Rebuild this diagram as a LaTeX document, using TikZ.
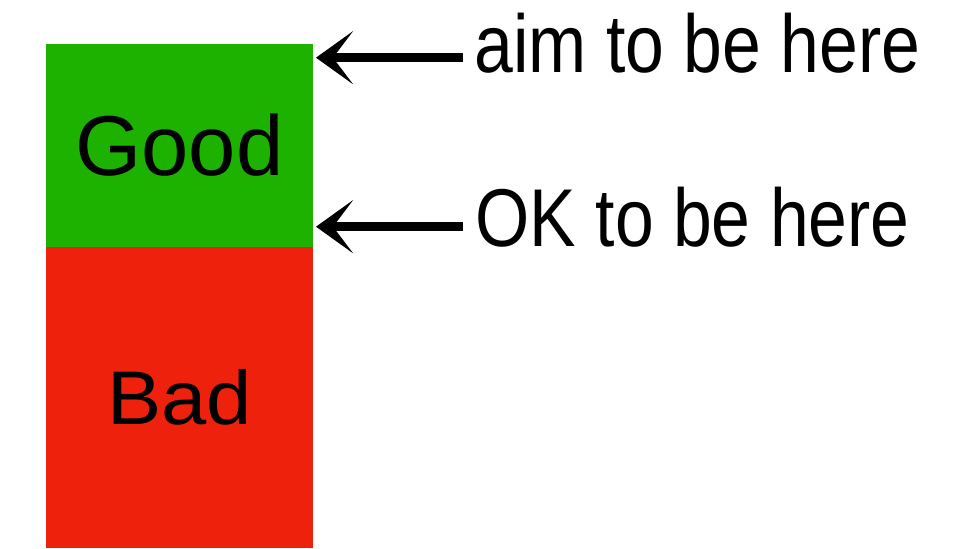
\documentclass[tikz,border=0pt]{standalone}
\usepackage{fontspec}
\setmainfont{Liberation Sans}
\newfontfamily\notefont{Liberation Sans}[FakeStretch=0.85]
\newfontfamily\badfont{Liberation Sans}[FakeStretch=1.07]
\usetikzlibrary{arrows.meta,calc}
\definecolor{goodgreen}{RGB}{29,177,0}
\definecolor{badred}{RGB}{238,34,12}
\begin{document}
\begin{tikzpicture}[x=1pt,y=1pt,
  zone/.style={minimum width=267pt, inner sep=0pt, outer sep=0pt, draw=none, text=black},
  pointer/.style={line width=9pt, black, -{Stealth[length=37pt,width=53pt,inset=20pt]}},
  note/.style={anchor=base west, inner sep=0pt, font=\notefont\fontsize{82}{90}\selectfont}]
\useasboundingbox (0,0) rectangle (965,548);

% the two zones of the bar
\node[zone, fill=goodgreen, minimum height=203pt,
      font=\fontsize{85}{95}\selectfont] (good) at (179.5,402.5) {Good};
\node[zone, fill=badred, minimum height=301pt,
      font=\badfont\fontsize{76}{86}\selectfont] (bad) at (179.5,150.5) {Bad};

% labels on the right
\node[note] (aim) at (474.5,475) {aim to be here};
\node[note] (ok) at (475.5,301) {OK to be here};

% pointers to the top and to the boundary of the green zone
\coordinate (aimtail) at (463,490.3);
\coordinate (oktail) at (463,321.3);
\coordinate (aimtip) at ($(good.north east)+(3,-13.7)$);
\coordinate (oktip) at ($(good.south east)+(3,20.3)$);
\draw[pointer] (aimtail) -- (aimtip);
\draw[pointer] (oktail) -- (oktip);
\end{tikzpicture}
\end{document}
